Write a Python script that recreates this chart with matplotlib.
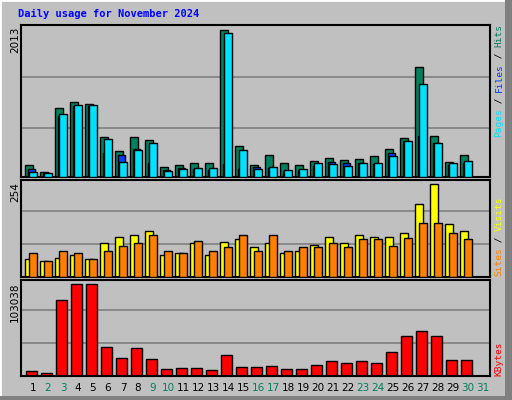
import matplotlib
matplotlib.use("Agg")
import matplotlib.pyplot as plt
from matplotlib.patches import Rectangle

days = list(range(1, 32))
hits = [170, 70, 940, 1020, 995, 540, 350, 540, 500, 130, 170, 185, 185, 2013, 420,
        170, 307, 197, 170, 225, 266, 239, 252, 293, 376, 527, 1500, 554, 211, 307, 0]
files = [115, 60, 829, 970, 965, 321, 307, 376, 197, 100, 125, 115, 100, 184, 115,
         140, 125, 88, 100, 150, 211, 197, 197, 184, 321, 486, 554, 458, 170, 197, 0]
pages = [74, 55, 856, 980, 980, 513, 211, 362, 458, 88, 115, 125, 125, 1968, 362,
         115, 143, 100, 115, 197, 184, 150, 197, 197, 293, 486, 1268, 458, 197, 225, 0]
visits = [48, 45, 53, 59, 48, 94, 111, 116, 125, 59, 67, 92, 61, 97, 105,
          81, 94, 67, 70, 89, 111, 92, 114, 111, 111, 122, 199, 254, 144, 127, 0]
sites = [67, 45, 70, 67, 50, 70, 86, 92, 116, 72, 67, 100, 70, 83, 114,
         72, 114, 72, 81, 83, 92, 83, 105, 103, 86, 108, 147, 149, 122, 103, 0]
kbytes = [6000, 3760, 85000, 103038, 103038, 33100, 20700, 32000, 19550, 8270, 9400, 9400,
          7140, 24060, 10530, 10530, 11660, 8270, 8270, 12780, 17300, 15040, 17300, 15040,
          27450, 45500, 51140, 45500, 18420, 18420, 0]
weekend = [2, 3, 9, 10, 16, 17, 23, 24, 30, 31]

W, H = 512, 400
fig = plt.figure(figsize=(W / 100, H / 100), dpi=100)
fig.patch.set_facecolor("#C0C0C0")

def px(x0, y0, w, h):
    return [x0 / W, 1 - (y0 + h) / H, w / W, h / H]

# bevel borders
fig.add_artist(Rectangle((0, 0), 1, 1, transform=fig.transFigure, fill=False, ec="white", lw=2))
fig.add_artist(Rectangle((505 / W, 0), 7 / W, 1, transform=fig.transFigure, fc="#808080", ec="none"))
fig.add_artist(Rectangle((0, 0), 1, 4 / H, transform=fig.transFigure, fc="#808080", ec="none"))

xl = (0.2, 31.47)
GRID = "#808080"
ek = dict(edgecolor="black", linewidth=1)

def style(ax, ylim, grids):
    ax.set_facecolor("#C0C0C0")
    ax.set_xlim(*xl)
    ax.set_ylim(0, ylim)
    ax.set_xticks([]); ax.set_yticks([])
    for g in grids:
        ax.axhline(g, color=GRID, lw=1.2, zorder=0)
    for s in ax.spines.values():
        s.set_linewidth(1.5)

d = [x for x in days if x <= 30]
n = len(d)

ax1 = fig.add_axes(px(21, 25, 469, 152))
style(ax1, 2076, [675, 1366])
ax1.bar([x - 0.53 for x in d], hits[:n], width=0.5, align="edge", color="#00805C", zorder=2, **ek)
ax1.bar([x - 0.35 for x in d], files[:n], width=0.46, align="edge", color="#0040FF", zorder=3, **ek)
ax1.bar([x - 0.25 for x in d], pages[:n], width=0.5, align="edge", color="#00E0FF", zorder=4, **ek)

ax2 = fig.add_axes(px(21, 180, 469, 97))
style(ax2, 266, [91, 182])
ax2.bar([x - 0.53 for x in d], visits[:n], width=0.5, align="edge", color="#FFFF00", zorder=2, **ek)
ax2.bar([x - 0.25 for x in d], sites[:n], width=0.5, align="edge", color="#FF8000", zorder=3, **ek)

ax3 = fig.add_axes(px(21, 280, 469, 96))
style(ax3, 107900, [37230, 74460])
ax3.bar([x - 0.47 for x in d], kbytes[:n], width=0.72, align="edge", color="#FF0000", zorder=2, **ek)

for x in days:
    ax3.text(x, -0.07, str(x), transform=ax3.get_xaxis_transform(), ha="center", va="top",
             fontsize=7.5, color="#00805C" if x in weekend else "black")

fig.text(18 / W, 1 - 14 / H, "Daily usage for November 2024", color="#0000FF",
         family="DejaVu Sans Mono", fontweight="bold", fontsize=7.5, va="center")

def ylab(y_top, s):
    fig.text(15 / W, 1 - y_top / H, s, rotation=90, ha="center", va="top", fontsize=7.5)
ylab(27, "2013"); ylab(182, "254"); ylab(282, "103038")

CW = 5.6
def rlab(y_bottom, parts):
    pos = 0
    for s, c in parts:
        fig.text(499 / W, 1 - (y_bottom - pos * CW) / H, s, rotation=90, ha="center",
                 va="bottom", fontsize=6.8, family="DejaVu Sans Mono", color=c)
        pos += len(s)

rlab(137, [("Pages", "#00E0FF"), (" / ", "black"), ("Files", "#0040FF"), (" / ", "black"), ("Hits", "#00805C")])
rlab(276, [("Sites", "#FF8000"), (" / ", "black"), ("Visits", "#FFFF00")])
rlab(376, [("KBytes", "#FF0000")])

fig.savefig("out.png", dpi=100, facecolor=fig.get_facecolor())
